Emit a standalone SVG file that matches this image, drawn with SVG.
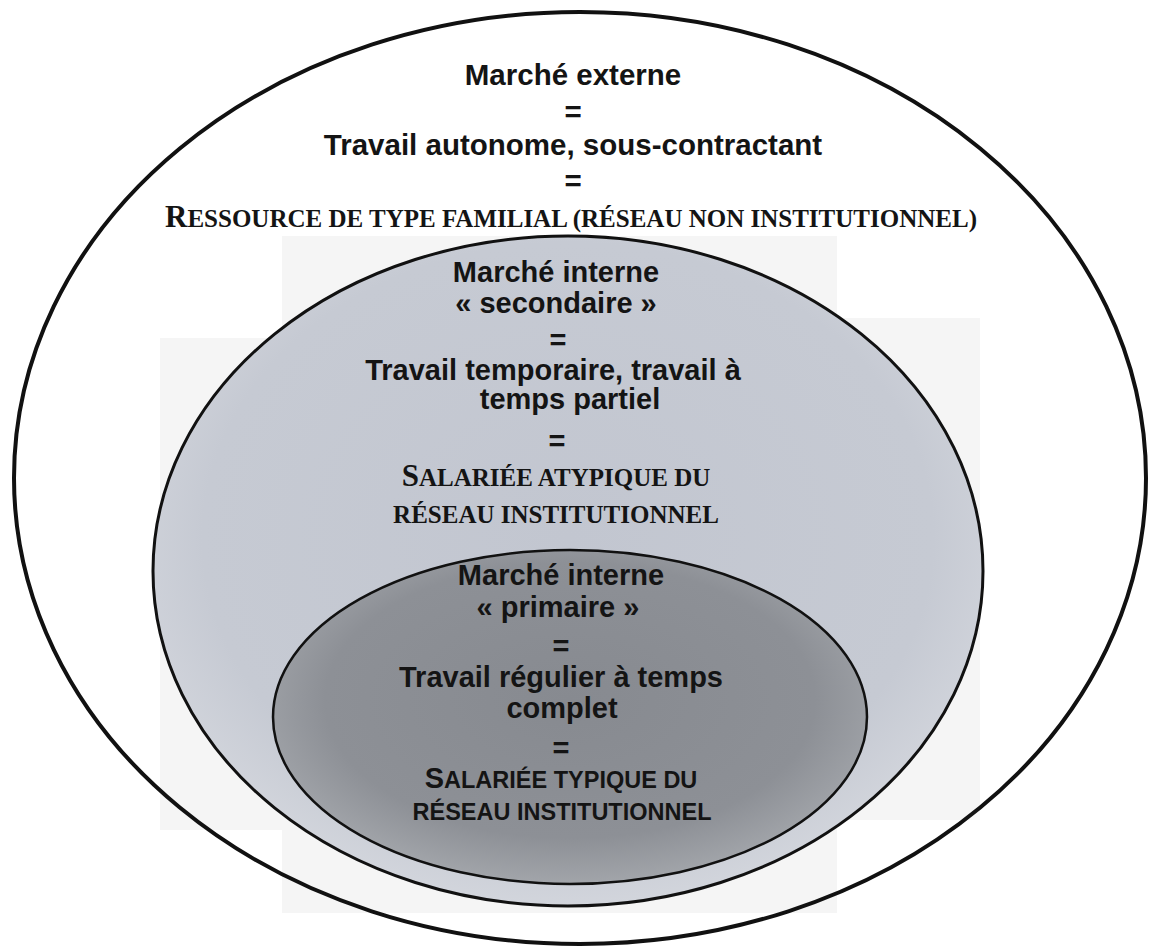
<svg xmlns="http://www.w3.org/2000/svg" width="1150" height="949" viewBox="0 0 1150 949">
  <defs>
    <radialGradient id="gMid" cx="50%" cy="45%" r="55%">
      <stop offset="0" stop-color="#c2c6d0"/>
      <stop offset="0.8" stop-color="#c6cad3"/>
      <stop offset="1" stop-color="#d2d5dc"/>
    </radialGradient>
    <radialGradient id="gIn" cx="50%" cy="45%" r="55%">
      <stop offset="0" stop-color="#878a90"/>
      <stop offset="0.75" stop-color="#8d9096"/>
      <stop offset="1" stop-color="#a2a5aa"/>
    </radialGradient>
    <style>
      .sans { font-family: "Liberation Sans", Arial, sans-serif; font-weight: bold; font-size: 29px; fill: #141414; text-anchor: middle; }
      .outer { font-size: 29.5px; }
      .serif { font-family: "Liberation Serif", "Times New Roman", serif; font-weight: bold; font-size: 25px; fill: #141414; text-anchor: middle; }
      .big { font-size: 31px; }
      .sc { font-family: "Liberation Sans", Arial, sans-serif; font-weight: bold; font-size: 23.5px; fill: #141414; text-anchor: middle; }
      .scbig { font-size: 29px; }
      .ring { stroke: #111; }
    </style>
  </defs>
  <rect x="0" y="0" width="1150" height="949" fill="#ffffff"/>
  <path d="M282,236 H837 V318 H980 V820 H837 V913 H282 V830 H160 V338 H282 Z" fill="#f5f5f5"/>

  <g id="connectors"/>

  <g id="marche-externe">
    <ellipse class="ring" cx="580" cy="478" rx="566" ry="466" fill="none" stroke-width="4"/>
    <text class="sans outer" x="573" y="85">Marché externe</text>
    <text class="sans outer" x="573" y="122">=</text>
    <text class="sans outer" x="573" y="155">Travail autonome, sous-contractant</text>
    <text class="sans outer" x="573" y="191">=</text>
    <text class="serif" x="571" y="227"><tspan class="big">R</tspan>ESSOURCE DE TYPE FAMILIAL (RÉSEAU NON INSTITUTIONNEL)</text>
  </g>

  <g id="marche-interne-secondaire">
    <ellipse class="ring" cx="568" cy="571" rx="415" ry="335" fill="url(#gMid)" stroke-width="3"/>
    <text class="sans" x="556" y="282">Marché interne</text>
    <text class="sans" x="556" y="313">« secondaire »</text>
    <text class="sans" x="558" y="350">=</text>
    <text class="sans" x="553" y="380">Travail temporaire, travail à</text>
    <text class="sans" x="570" y="409">temps partiel</text>
    <text class="sans" x="557" y="451">=</text>
    <text class="serif" x="556" y="486"><tspan class="big">S</tspan>ALARIÉE ATYPIQUE DU</text>
    <text class="serif" x="556" y="523">RÉSEAU INSTITUTIONNEL</text>
  </g>

  <g id="marche-interne-primaire">
    <ellipse class="ring" cx="570" cy="717" rx="297" ry="167" fill="url(#gIn)" stroke-width="2.5"/>
    <text class="sans" x="561" y="585">Marché interne</text>
    <text class="sans" x="558" y="617">« primaire »</text>
    <text class="sans" x="561" y="656">=</text>
    <text class="sans" x="561" y="687">Travail régulier à temps</text>
    <text class="sans" x="562" y="718">complet</text>
    <text class="sans" x="561" y="758">=</text>
    <text class="sc" x="561" y="788"><tspan class="scbig">S</tspan>ALARIÉE TYPIQUE DU</text>
    <text class="sc" x="562" y="820">RÉSEAU INSTITUTIONNEL</text>
  </g>
</svg>
